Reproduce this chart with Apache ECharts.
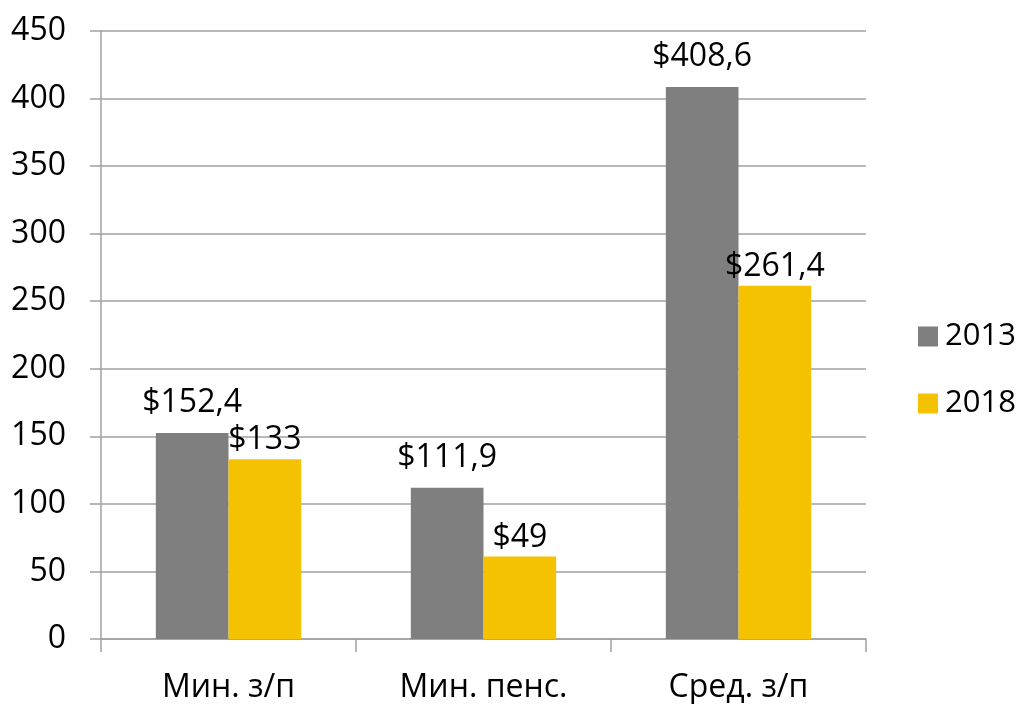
<!DOCTYPE html>
<html>
<head>
<meta charset="utf-8">
<style>
	html, body { margin: 0; padding: 0; background: #fff; }
	#charts { width: 1020px; height: 704px; }
</style>
<script src="https://cdn.jsdelivr.net/npm/echarts@6/dist/echarts.min.js"></script>
</head>
<body>
<div id="charts"></div>
<script>
// категории и значения
var categories = ['Мин. з/п', 'Мин. пенс.', 'Сред. з/п'];
var years = ['2013', '2018'];
var values2013 = [152.4, 111.9, 408.6];
var values2018 = [133, 61, 261.4];
// подписи над столбцами (как на картинке)
var labels2013 = ['$152,4', '$111,9', '$408,6'];
var labels2018 = ['$133', '$49', '$261,4'];
var yTicks = [0, 50, 100, 150, 200, 250, 300, 350, 400, 450];

var font = '"Open Sans", "Noto Sans", sans-serif';
var lineColor = '#a0a0a0';

function labelFn(list) {
	return function(p) {
		return list[p.dataIndex];
	};
}

var option = {
	animation: false,
	textStyle: { fontFamily: font },
	grid: { left: 101, right: 154, top: 31, bottom: 63 },
	legend: {
		orient: 'vertical',
		left: 913,
		top: 316,
		itemWidth: 20,
		itemHeight: 20,
		itemGap: 36,
		icon: 'rect',
		data: years,
		textStyle: { fontSize: 31, color: '#000', fontFamily: font, padding: [0, 0, 0, 2] }
	},
	xAxis: {
		type: 'category',
		data: categories,
		axisLine: { lineStyle: { color: lineColor, width: 1.5 } },
		axisTick: { show: true, length: 13, alignWithLabel: false, lineStyle: { color: lineColor, width: 1.5 } },
		axisLabel: { fontSize: 32, color: '#000', margin: 33, fontFamily: font }
	},
	yAxis: {
		type: 'value',
		min: yTicks[0],
		max: yTicks[yTicks.length - 1],
		interval: 50,
		axisLine: { show: true, lineStyle: { color: lineColor, width: 1.5 } },
		axisTick: { show: true, length: 11, lineStyle: { color: lineColor, width: 1.5 } },
		splitLine: { lineStyle: { color: lineColor, width: 1.5 } },
		axisLabel: { fontSize: 32, color: '#000', margin: 35, fontFamily: font }
	},
	series: [
		{
			name: years[0],
			type: 'bar',
			data: values2013,
			barGap: '0%',
			barCategoryGap: '43%',
			itemStyle: { color: '#7f7f7f' },
			label: {
				show: true, position: 'top', distance: 14,
				fontSize: 32, color: '#000', fontFamily: font,
				formatter: labelFn(labels2013)
			}
		},
		{
			name: years[1],
			type: 'bar',
			data: values2018,
			barGap: '0%',
			barCategoryGap: '43%',
			itemStyle: { color: '#f4c200' },
			label: {
				show: true, position: 'top', distance: 3,
				fontSize: 32, color: '#000', fontFamily: font,
				formatter: labelFn(labels2018)
			}
		}
	]
};

var myChart = echarts.init(document.getElementById('charts'));
myChart.setOption(option);
</script>
</body>
</html>
